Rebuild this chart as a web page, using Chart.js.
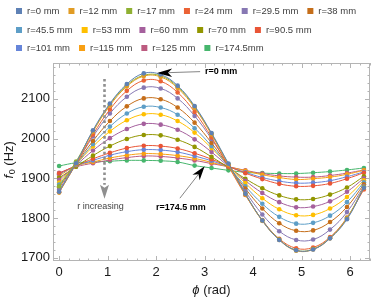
<!DOCTYPE html>
<html>
  <head>
    <script src="https://cdn.jsdelivr.net/npm/chart.js@4"></script>
    <style>
      body { margin: 0; background: #fff; }
    </style>
  </head>
  <body>
    <canvas id="canvas" width="374" height="300"></canvas>
    <script>
      // angle in rad, 20 degree steps
      const phi = [0, 0.349, 0.698, 1.047, 1.396, 1.745, 2.094, 2.443, 2.793, 3.142,
        3.491, 3.840, 4.189, 4.538, 4.887, 5.236, 5.585, 5.934, 6.283];

      const xTicks = [0, 1, 2, 3, 4, 5, 6];
      const yTicks = [1700, 1800, 1900, 2000, 2100];

      const labels = ['r=0 mm', 'r=12 mm', 'r=17 mm', 'r=24 mm', 'r=29.5 mm', 'r=38 mm',
        'r=45.5 mm', 'r=53 mm', 'r=60 mm', 'r=70 mm', 'r=90.5 mm',
        'r=101 mm', 'r=115 mm', 'r=125 mm', 'r=174.5mm'];

      const r0 = [1866, 1938, 2021, 2088, 2137, 2164, 2161, 2133, 2082, 2014, 1937, 1861, 1794, 1745, 1719, 1721, 1749, 1797, 1876];
      const r12 = [1864, 1937, 2017, 2083, 2131, 2157, 2155, 2127, 2077, 2010, 1934, 1859, 1793, 1745, 1718, 1721, 1749, 1799, 1876];
      const r17 = [1880, 1942, 2019, 2086, 2134, 2159, 2158, 2130, 2080, 2012, 1936, 1861, 1794, 1746, 1719, 1722, 1750, 1800, 1878];
      const r24 = [1865, 1936, 2010, 2073, 2120, 2146, 2144, 2116, 2067, 2003, 1930, 1858, 1795, 1748, 1724, 1726, 1752, 1801, 1872];
      const r29_5 = [1871, 1937, 2005, 2063, 2105, 2128, 2126, 2101, 2057, 1999, 1933, 1867, 1809, 1767, 1745, 1746, 1771, 1815, 1880];
      const r38 = [1877, 1936, 1994, 2044, 2081, 2101, 2099, 2078, 2040, 1989, 1931, 1874, 1824, 1787, 1768, 1769, 1790, 1828, 1885];
      const r45_5 = [1884, 1935, 1986, 2030, 2063, 2080, 2078, 2060, 2026, 1981, 1930, 1880, 1836, 1803, 1786, 1788, 1806, 1840, 1890];
      const r53 = [1889, 1935, 1980, 2018, 2046, 2061, 2060, 2044, 2015, 1976, 1932, 1888, 1850, 1822, 1807, 1808, 1824, 1853, 1895];
      const r60 = [1896, 1933, 1970, 2001, 2024, 2037, 2035, 2022, 1998, 1966, 1930, 1894, 1863, 1840, 1827, 1829, 1842, 1866, 1900];
      const r70 = [1901, 1929, 1957, 1981, 1999, 2009, 2008, 1997, 1979, 1954, 1927, 1899, 1875, 1857, 1847, 1848, 1859, 1877, 1905];
      const r90_5 = [1912, 1932, 1949, 1964, 1976, 1982, 1981, 1975, 1963, 1948, 1930, 1913, 1898, 1886, 1880, 1881, 1887, 1899, 1914];
      const r101 = [1910, 1931, 1945, 1958, 1967, 1972, 1971, 1966, 1956, 1944, 1929, 1915, 1902, 1893, 1888, 1889, 1894, 1904, 1916];
      const r115 = [1906, 1931, 1941, 1951, 1958, 1962, 1961, 1957, 1950, 1940, 1929, 1919, 1909, 1902, 1897, 1899, 1903, 1910, 1920];
      const r125 = [1914, 1929, 1938, 1946, 1952, 1956, 1955, 1951, 1945, 1937, 1929, 1920, 1912, 1906, 1903, 1903, 1907, 1913, 1921];
      const r174_5 = [1931, 1939, 1941, 1943, 1945, 1945, 1944, 1941, 1932, 1926, 1920, 1915, 1913, 1912, 1912, 1914, 1917, 1921, 1926];

      const series = [r0, r12, r17, r24, r29_5, r38, r45_5, r53, r60, r70, r90_5, r101, r115, r125, r174_5];

      const colors = ['#5E81B5', '#E19C24', '#8FB032', '#EB6235', '#8778B3', '#C56E1A', '#5D9EC7',
        '#FFBF00', '#A5609D', '#929600', '#E95536', '#6685D9', '#F89F13', '#BC5B80', '#47B66D'];

      const FONT = '"Liberation Sans", Arial, sans-serif';

      // legend rows as in the figure
      const legendRows = [[0, 1, 2, 3, 4, 5], [6, 7, 8, 9, 10], [11, 12, 13, 14]];

      const frameAndLabels = {
        id: 'frameAndLabels',
        beforeDatasetsDraw(chart) {
          const { ctx, chartArea: a } = chart;
          const xs = chart.scales.x, ys = chart.scales.y;
          ctx.save();
          ctx.strokeStyle = '#b4b4b4';
          ctx.lineWidth = 1;
          ctx.strokeRect(a.left + 0.5, a.top + 0.5, a.right - a.left - 1, a.bottom - a.top - 1);
          ctx.beginPath();
          for (let i = 0; i <= 32; i++) {
            const v = i * 0.2;
            const px = Math.round(xs.getPixelForValue(v)) + 0.5;
            const len = i % 5 === 0 ? 5 : 2.5;
            ctx.moveTo(px, a.bottom);
            ctx.lineTo(px, a.bottom - len);
            ctx.moveTo(px, a.top);
            ctx.lineTo(px, a.top + len);
          }
          for (let i = 0; i <= 24; i++) {
            const v = 1700 + i * 20;
            const py = Math.round(ys.getPixelForValue(v)) + 0.5;
            const len = i % 5 === 0 ? 5 : 2.5;
            ctx.moveTo(a.left, py);
            ctx.lineTo(a.left + len, py);
            ctx.moveTo(a.right, py);
            ctx.lineTo(a.right - len, py);
          }
          ctx.stroke();
          ctx.restore();
        },
        afterDatasetsDraw(chart) {
          const { ctx } = chart;
          const xs = chart.scales.x, ys = chart.scales.y;
          const X = v => xs.getPixelForValue(v), Y = v => ys.getPixelForValue(v);
          ctx.save();

          // r=0 arrow
          let tx = X(2.02), ty = Y(2165);
          ctx.strokeStyle = '#666';
          ctx.lineWidth = 0.8;
          ctx.beginPath();
          ctx.moveTo(tx + 12, ty - 0.3);
          ctx.lineTo(tx + 43, ty - 1.3);
          ctx.stroke();
          ctx.fillStyle = '#000';
          ctx.beginPath();
          ctx.moveTo(tx, ty);
          ctx.lineTo(tx + 15, ty - 4.5);
          ctx.lineTo(tx + 11, ty - 0.3);
          ctx.lineTo(tx + 15, ty + 4);
          ctx.closePath();
          ctx.fill();
          ctx.font = 'bold 9px ' + FONT;
          ctx.textBaseline = 'middle';
          ctx.textAlign = 'left';
          ctx.fillText('r=0 mm', tx + 48, ty - 1);

          // r=174.5 arrow
          tx = X(3.0); ty = Y(1930);
          const bx = X(2.49), by = Y(1850);
          const ang = Math.atan2(by - ty, bx - tx);
          const c = Math.cos(ang), s = Math.sin(ang);
          ctx.beginPath();
          ctx.moveTo(tx + c * 10, ty + s * 10);
          ctx.lineTo(bx, by);
          ctx.stroke();
          ctx.beginPath();
          ctx.moveTo(tx, ty);
          ctx.lineTo(tx + c * 14 - s * 4.5, ty + s * 14 + c * 4.5);
          ctx.lineTo(tx + c * 10, ty + s * 10);
          ctx.lineTo(tx + c * 14 + s * 4.5, ty + s * 14 - c * 4.5);
          ctx.closePath();
          ctx.fill();
          ctx.textAlign = 'center';
          ctx.fillText('r=174.5 mm', bx + 1, by + 9);

          // dotted "r increasing" arrow
          const dx = Math.round(X(0.92)) + 0.5;
          const y1 = Y(2150), y2 = Y(1884);
          ctx.strokeStyle = '#8f8f8f';
          ctx.lineWidth = 2.6;
          ctx.setLineDash([2.6, 2.6]);
          ctx.beginPath();
          ctx.moveTo(dx, y1);
          ctx.lineTo(dx, y2);
          ctx.stroke();
          ctx.setLineDash([]);
          ctx.fillStyle = '#8f8f8f';
          ctx.beginPath();
          ctx.moveTo(dx, y2 + 14);
          ctx.lineTo(dx - 4.5, y2);
          ctx.lineTo(dx, y2 + 3);
          ctx.lineTo(dx + 4.5, y2);
          ctx.closePath();
          ctx.fill();
          ctx.fillStyle = '#444';
          ctx.font = '9px ' + FONT;
          ctx.fillText('r increasing', dx - 4, y2 + 22);
          ctx.restore();
        },
        afterDraw(chart) {
          const { ctx, chartArea: a } = chart;
          ctx.save();
          // legend
          ctx.font = '9.5px ' + FONT;
          ctx.textBaseline = 'middle';
          ctx.textAlign = 'left';
          const rowY = [11, 30, 48];
          legendRows.forEach((row, r) => {
            let x = 16;
            row.forEach(i => {
              ctx.fillStyle = colors[i];
              ctx.fillRect(x, rowY[r] - 3, 6, 6);
              ctx.fillStyle = '#404040';
              ctx.fillText(labels[i], x + 11, rowY[r]);
              x += 11 + ctx.measureText(labels[i]).width + 9;
            });
          });

          // x title
          ctx.fillStyle = '#1a1a1a';
          const cx = (a.left + a.right) / 2;
          ctx.font = 'italic 13px ' + FONT;
          const w1 = ctx.measureText('\u03d5').width;
          ctx.font = '13px ' + FONT;
          const w2 = ctx.measureText(' (rad)').width;
          let x0 = cx - (w1 + w2) / 2;
          ctx.font = 'italic 13px ' + FONT;
          ctx.fillText('\u03d5', x0, 290);
          ctx.font = '13px ' + FONT;
          ctx.fillText(' (rad)', x0 + w1, 290);

          // y title
          ctx.translate(9, (a.top + a.bottom) / 2 - 2);
          ctx.rotate(-Math.PI / 2);
          ctx.font = 'italic 13px ' + FONT;
          const f1 = ctx.measureText('f').width;
          ctx.font = '9px ' + FONT;
          const f2 = ctx.measureText('0').width;
          ctx.font = '13px ' + FONT;
          const f3 = ctx.measureText(' (Hz)').width;
          x0 = -(f1 + f2 + f3) / 2;
          ctx.font = 'italic 13px ' + FONT;
          ctx.fillText('f', x0, 0);
          ctx.font = '9px ' + FONT;
          ctx.fillText('0', x0 + f1 + 0.5, 4);
          ctx.font = '13px ' + FONT;
          ctx.fillText(' (Hz)', x0 + f1 + f2 + 0.5, 0);
          ctx.restore();
        }
      };

      new Chart(document.getElementById('canvas').getContext('2d'), {
        type: 'line',
        data: {
          datasets: series.map((vals, i) => ({
            label: labels[i],
            data: vals.map((v, k) => ({ x: phi[k], y: v })),
            borderColor: colors[i],
            backgroundColor: colors[i],
            borderWidth: 1,
            pointRadius: 2.3,
            pointBorderWidth: 0,
            tension: 0.4,
            fill: false,
          })),
        },
        options: {
          responsive: false,
          animation: false,
          layout: { padding: { top: 63, right: 1, left: 0, bottom: 0 } },
          plugins: { legend: { display: false }, tooltip: { enabled: false } },
          scales: {
            x: {
              type: 'linear',
              min: -0.126,
              max: 6.409,
              grid: { display: false, drawTicks: false },
              border: { display: false },
              ticks: {
                padding: 4,
                color: '#1a1a1a',
                font: { family: FONT, size: 13 },
                callback: v => String(v),
              },
              afterBuildTicks: s => { s.ticks = xTicks.map(v => ({ value: v })); },
              afterFit: s => { s.height = 39; },
            },
            y: {
              min: 1692,
              max: 2190,
              grid: { display: false, drawTicks: false },
              border: { display: false },
              ticks: {
                padding: 3,
                color: '#1a1a1a',
                font: { family: FONT, size: 13 },
                callback: v => String(v),
              },
              afterBuildTicks: s => { s.ticks = yTicks.map(v => ({ value: v })); },
              afterFit: s => { s.width = 53; },
            },
          },
        },
        plugins: [frameAndLabels],
      });
    </script>
  </body>
</html>
